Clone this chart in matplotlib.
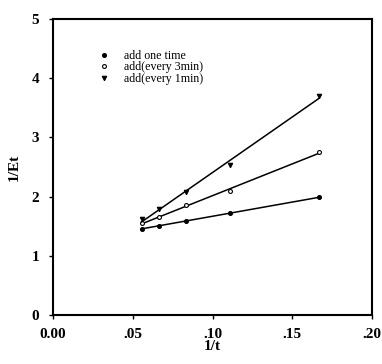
import numpy as np
import matplotlib
matplotlib.use("Agg")
import matplotlib.pyplot as plt
from matplotlib.ticker import FixedLocator, FixedFormatter

inv_t = [1/18, 1/15, 1/12, 1/9, 1/6]
once = [1.46, 1.51, 1.58, 1.72, 1.99]
every3 = [1.55, 1.66, 1.85, 2.09, 2.75]
every1 = [1.62, 1.79, 2.07, 2.54, 3.70]
labels = ["add one time", "add(every 3min)", "add(every 1min)"]
xticks = [0.0, 0.05, 0.10, 0.15, 0.20]
xticklabels = ["0.00", ".05", ".10", ".15", ".20"]
yticks = [0, 1, 2, 3, 4, 5]

plt.rcParams['font.family'] = ['Liberation Serif', 'DejaVu Serif']
fig = plt.figure(figsize=(3.82, 3.64), dpi=100)
ax = fig.add_axes([53/382, 1 - 315/364, (372-53)/382, (315-19)/364])

x = np.array(inv_t)
styles = [dict(marker='o', mfc='black', ms=2.8),
          dict(marker='o', mfc='white', ms=2.8),
          dict(marker='v', mfc='black', ms=3.2)]
handles = []
for ys, st, lab in zip([once, every3, every1], styles, labels):
    p = np.polyfit(x, ys, 1)
    ax.plot(x, np.polyval(p, x), color='black', lw=1.1)
    h, = ax.plot(x, ys, linestyle='none', color='black', mec='black', mew=0.8, **st, label=lab)
    handles.append(h)

ax.set_xlim(0, 0.20)
ax.set_ylim(0, 5)
ax.xaxis.set_major_locator(FixedLocator(xticks))
ax.xaxis.set_major_formatter(FixedFormatter(xticklabels))
ax.set_yticks(yticks)
ax.tick_params(direction='out', length=3, width=1, labelsize=11)
ax.tick_params(axis='x', pad=6)
ax.tick_params(axis='y', pad=7)
for lab in ax.get_xticklabels() + ax.get_yticklabels():
    lab.set_fontweight('bold')
for s in ax.spines.values():
    s.set_linewidth(1.5)
ax.set_xlabel("1/t", fontsize=11, fontweight='bold', labelpad=0)
ax.set_ylabel("1/Et", fontsize=11, fontweight='bold', labelpad=8)

ax.legend(handles=handles, loc='upper left', bbox_to_anchor=(0.145, 0.895), frameon=False,
          fontsize=8.6, handlelength=0.8, handletextpad=1.3, labelspacing=-0.05,
          borderpad=0, borderaxespad=0)

fig.savefig("out.png", dpi=100)
